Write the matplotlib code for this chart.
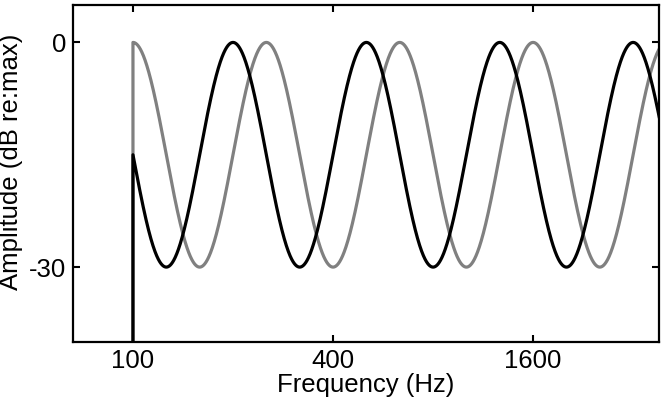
import numpy as np
import matplotlib
matplotlib.use("Agg")
import matplotlib.pyplot as plt

plt.rcParams['font.family'] = ['Liberation Sans', 'DejaVu Sans']

# ripple spectrum parameters
f_start = 100.0          # Hz, spectrum starts here
f_stop = 4000.0          # Hz
ripple_depth = 30.0      # dB, peak to trough
ripple_density = 0.75    # cycles per octave
phase_gray = 0.0         # peak at 100 Hz
phase_black = 0.25       # falling from mid-level at 100 Hz, peak one octave up

xticks = [100, 400, 1600]
xticklabels = ['100', '400', '1600']
yticks = [-30, 0]
yticklabels = ['-30', '0']
xlim = (66, 3830)
ylim = (-40, 5)


def ripple(f, phase):
    octs = np.log2(f / f_start)
    return ripple_depth / 2 * np.cos(2 * np.pi * (ripple_density * octs + phase)) - ripple_depth / 2


f = np.geomspace(f_start, f_stop, 3000)
# vertical edge at the start frequency (silence below it)
fx = np.concatenate([[f_start], f])

fig = plt.figure(figsize=(6.66, 3.99), dpi=100)
ax = fig.add_axes([0.1096, 0.1429, 0.88, 0.8446])

ax.plot(fx, np.concatenate([[-100], ripple(f, phase_gray)]), color='#808080', lw=2.3)
ax.plot(fx, np.concatenate([[-100], ripple(f, phase_black)]), color='black', lw=2.3)

ax.set_xscale('log')
ax.set_xlim(*xlim)
ax.set_ylim(*ylim)
ax.set_xticks(xticks)
ax.set_xticklabels(xticklabels)
ax.minorticks_off()
ax.set_yticks(yticks)
ax.set_yticklabels(yticklabels)
ax.tick_params(direction='in', length=5, width=1.5, labelsize=18.5, pad=5,
               top=True, right=True)
for s in ax.spines.values():
    s.set_linewidth(1.6)

ax.set_xlabel('Frequency (Hz)', fontsize=18.5, labelpad=0)
ax.set_ylabel('Amplitude (dB re:max)', fontsize=18.5, labelpad=4)
ax.yaxis.set_label_coords(-0.085, 0.534)

fig.savefig('out.png', dpi=100)
